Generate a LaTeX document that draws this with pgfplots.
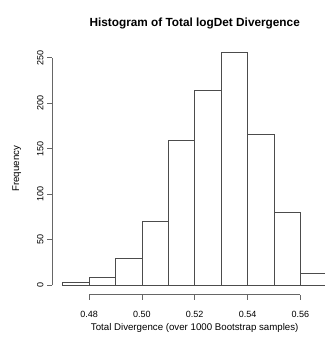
\documentclass[border=0pt]{standalone}
\usepackage{fontspec}
\setmainfont{Liberation Sans}
\usepackage{pgfplots}
\pgfplotsset{compat=1.18}
\begin{document}
\begin{tikzpicture}
\path[use as bounding box] (-52.1bp,-46.2bp) rectangle (272.9bp,294.8bp);
\begin{axis}[
  at={(0,0)}, anchor=south west,
  scale only axis,
  width=285.2bp, height=252.1bp,
  xmin=0.466, xmax=0.574,
  ymin=-10.24, ymax=266.24,
  axis line style={draw=none},
  xtick={0.48,0.50,0.52,0.54,0.56},
  ytick={0,50,100,150,200,250},
  xtick pos=bottom, ytick pos=left,
  tick align=outside,
  major tick length=5bp,
  tick style={draw=black!60, line width=0.75bp},
  /pgf/number format/assume math mode=true,
  xticklabel={\pgfmathprintnumber[fixed,fixed zerofill,precision=2]{\tick}},
  yticklabel={\pgfmathprintnumber[fixed]{\tick}},
  xticklabel style={font=\fontsize{9bp}{10bp}\selectfont, anchor=base, yshift=-17.5bp},
  yticklabel style={font=\fontsize{9bp}{10bp}\selectfont, rotate=90, anchor=south},
  scaled x ticks=false,
  title={Histogram of Total logDet Divergence},
  title style={font=\fontsize{11.8bp}{13bp}\selectfont\bfseries, at={(0.5,1)}, anchor=base, yshift=10.1bp},
  xlabel={Total Divergence (over 1000 Bootstrap samples)},
  xlabel style={font=\fontsize{9.7bp}{11bp}\selectfont, at={(0.5,0)}, anchor=base, yshift=-36bp},
  ylabel={Frequency},
  ylabel style={font=\fontsize{9.7bp}{11bp}\selectfont, at={(0,0.5)}, anchor=base, yshift=33bp},
  clip=false,
]
\addplot[ybar interval, draw=black!70, fill=white, line width=0.75bp]
  coordinates {(0.47,3) (0.48,9) (0.49,30) (0.50,70) (0.51,159) (0.52,214) (0.53,256) (0.54,166) (0.55,80) (0.56,13) (0.57,13)};
\draw[black!60, line width=0.75bp] (axis cs:0.48,-10.24) -- (axis cs:0.56,-10.24);
\draw[black!60, line width=0.75bp] (axis cs:0.466,0) -- (axis cs:0.466,250);
\end{axis}
\end{tikzpicture}
\end{document}
